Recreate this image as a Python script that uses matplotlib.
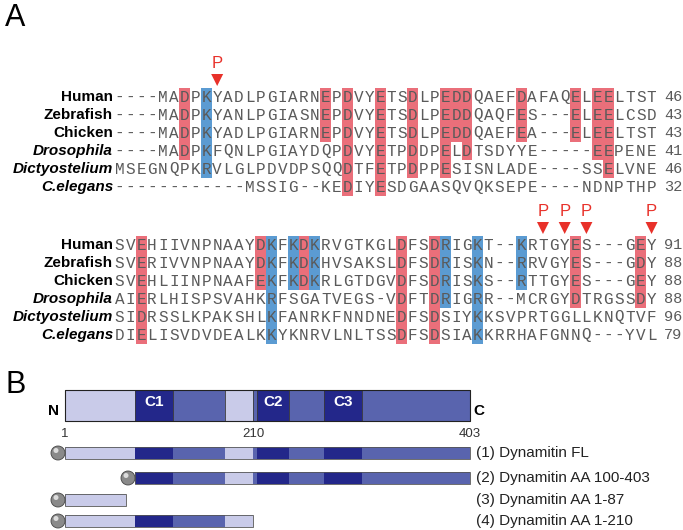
import numpy as np
import matplotlib.pyplot as plt
from matplotlib.patches import Rectangle, Circle, Polygon

# alignment data
species = ['Human', 'Zebrafish', 'Chicken', 'Drosophila', 'Dictyostelium', 'C.elegans']
italic = [False, False, False, True, True, True]

block1 = [
    '----MADPKYADLPGIARNEPDVYETSDLPEDDQAEFDAFAQELEELTST',
    '----MADPKYANLPGIASNEPDVYETSDLPEDDQAQFES---ELEELCSD',
    '----MADPKYADLPGIARNEPDVYETSDLPEDDQAEFEA---ELEELTST',
    '----MADPKFQNLPGIAYDQPDVYETPDDPELDTSDYYE-----EEPENE',
    'MSEGNQPKRVLGLPDVDPSQQDTFETPDPPESISNLADE----SSELVNE',
    '------------MSSIG--KEDIYESDGAASQVQKSEPE----NDNPTHP',
]
ends1 = [46, 43, 43, 41, 46, 32]
block2 = [
    'SVEHIIVNPNAAYDKFKDKRVGTKGLDFSDRIGKT--KRTGYES---GEY',
    'SVERIVVNPNAAYDKFKDKHVSAKSLDFSDRISKN--RRVGYES---GDY',
    'SVEHLIINPNAAFEKFKDKRLGTDGVDFSDRISKS--RTTGYES---GEY',
    'AIERLHISPSVAHKRFSGATVEGS-VDFTDRIGRR--MCRGYDTRGSSDY',
    'SIDRSSLKPAKSHLKFANRKFNNDNEDFSDSIYKKSVPRTGGLLKNQTVF',
    'DIELISVDVDEALKKYKNRVLNLTSSDFSDSIAKKRRHAFGNNQ---YVL',
]
ends2 = [91, 88, 88, 88, 96, 79]

# highlighted columns: (column, first row, last row, kind)
marks1 = [(6, 0, 3, 'acid'), (8, 0, 4, 'base'), (19, 0, 2, 'acid'), (21, 0, 5, 'acid'),
          (24, 0, 5, 'acid'), (27, 0, 4, 'acid'), (30, 0, 4, 'acid'), (31, 0, 2, 'acid'),
          (32, 0, 3, 'acid'), (37, 0, 2, 'acid'), (42, 0, 2, 'acid'), (44, 0, 3, 'acid'),
          (45, 0, 4, 'acid')]
marks2 = [(2, 0, 5, 'acid'), (13, 0, 2, 'acid'), (14, 0, 5, 'base'), (16, 0, 2, 'base'),
          (17, 0, 2, 'acid'), (18, 0, 2, 'base'), (26, 0, 5, 'acid'), (29, 0, 5, 'acid'),
          (30, 0, 3, 'base'), (33, 0, 5, 'base'), (37, 0, 2, 'base'), (42, 0, 3, 'acid'),
          (48, 0, 3, 'acid')]
phospho1 = [9]
phospho2 = [39, 41, 43, 49]

# domain map (residue boundaries, schematic)
seg_start = [1, 100, 135, 184, 210, 214, 242, 273, 307]
seg_end = [100, 135, 184, 210, 214, 242, 273, 307, 403]
seg_kind = ['light', 'dark', 'mid', 'light', 'mid', 'dark', 'mid', 'dark', 'mid']
domain_names = {1: 'C1', 5: 'C2', 7: 'C3'}
constructs = ['(1) Dynamitin FL', '(2) Dynamitin AA 100-403',
              '(3) Dynamitin AA 1-87', '(4) Dynamitin AA 1-210']
construct_range = [(1, 403), (100, 403), (1, 87), (1, 210)]
# schematic scale anchors: residue -> pixel
anchor_res = [1, 100, 210, 403]
anchor_px = [65, 135, 253, 470]

red = '#ea6f7a'
blue = '#5b9bd2'
fills = {'light': '#c9cbe9', 'mid': '#5964ae', 'dark': '#23278a'}
hl = {'acid': red, 'base': blue}

fig = plt.figure(figsize=(6.83, 5.30), dpi=100)
ax = fig.add_axes([0, 0, 1, 1])
ax.set_xlim(0, 683)
ax.set_ylim(530, 0)
ax.axis('off')

x0, cw, rh = 114, 10.86, 18


def draw_block(seqs, ends, marks, phos, ytop):
    for col, r0, r1, kind in marks:
        ax.add_patch(Rectangle((x0 + col * cw, ytop + r0 * rh - 9), cw, (r1 - r0 + 1) * rh,
                               color=hl[kind], lw=0))
    for r, (name, seq) in enumerate(zip(species, seqs)):
        y = ytop + r * rh
        ax.text(x0 - 1, y, name, ha='right', va='center', fontsize=11, fontweight='bold',
                fontstyle='italic' if italic[r] else 'normal', family='Liberation Sans')
        for i, ch in enumerate(seq):
            ax.text(x0 + (i + 0.5) * cw, y, ch, ha='center', va='center', fontsize=11.5,
                    family='Liberation Mono', color='#5a5a5a')
        ax.text(664, y, str(ends[r]), ha='left', va='center', fontsize=11,
                family='Liberation Mono', color='#5a5a5a')
    for col in phos:
        xc = x0 + (col + 0.5) * cw
        ax.add_patch(Polygon([(xc - 6, ytop - 23), (xc + 6, ytop - 23), (xc, ytop - 11)],
                             color='#e8312a', lw=0))
        ax.text(xc, ytop - 33, 'P', ha='center', va='center', fontsize=12, color='#e8312a',
                family='Liberation Sans')


draw_block(block1, ends1, marks1, phospho1, 97)
draw_block(block2, ends2, marks2, phospho2, 245)

ax.text(5, 18, 'A', fontsize=22, va='center', family='Liberation Sans')
ax.text(5, 385, 'B', fontsize=22, va='center', family='Liberation Sans')


def rx(res):
    return float(np.interp(res, anchor_res, anchor_px))


bx0, bx1 = rx(1), rx(403)

# full-length map
for i, (s, e, k) in enumerate(zip(seg_start, seg_end, seg_kind)):
    ax.add_patch(Rectangle((rx(s), 390), rx(e) - rx(s), 31, facecolor=fills[k],
                           edgecolor='#333333', lw=0.5))
    if i in domain_names:
        ax.text((rx(s) + rx(e)) / 2, 402, domain_names[i], ha='center', va='center',
                color='white', fontsize=11, fontweight='bold', family='Liberation Sans')
ax.add_patch(Rectangle((bx0, 390), bx1 - bx0, 31, fill=False, edgecolor='#222222', lw=0.8))
ax.text(bx0 - 6, 411, 'N', ha='right', va='center', fontsize=11, fontweight='bold',
        family='Liberation Sans')
ax.text(bx1 + 3, 411, 'C', ha='left', va='center', fontsize=11, fontweight='bold',
        family='Liberation Sans')
for res in (1, 210, 403):
    ax.text(rx(res), 434, str(res), ha='center', va='center', fontsize=9.5,
            family='Liberation Sans', color='#333333')

# constructs
row_y = [453, 478, 500, 521]
for label, (a, b), y in zip(constructs, construct_range, row_y):
    for s, e, k in zip(seg_start, seg_end, seg_kind):
        s2, e2 = max(s, a), min(e, b)
        if e2 > s2:
            ax.add_patch(Rectangle((rx(s2), y - 6), rx(e2) - rx(s2), 12, facecolor=fills[k],
                                   edgecolor='none'))
    ax.add_patch(Rectangle((rx(a), y - 6), rx(b) - rx(a), 12, fill=False,
                           edgecolor='#555555', lw=0.6))
    ax.add_patch(Circle((rx(a) - 7, y), 7, facecolor='#8a8a8a', edgecolor='#444444', lw=0.6))
    ax.add_patch(Circle((rx(a) - 9, y - 2.5), 2.5, facecolor='#dddddd', edgecolor='none'))
    ax.text(476, y, label, ha='left', va='center', fontsize=11, family='Liberation Sans',
            color='#222222')

fig.savefig('out.png', dpi=100)
